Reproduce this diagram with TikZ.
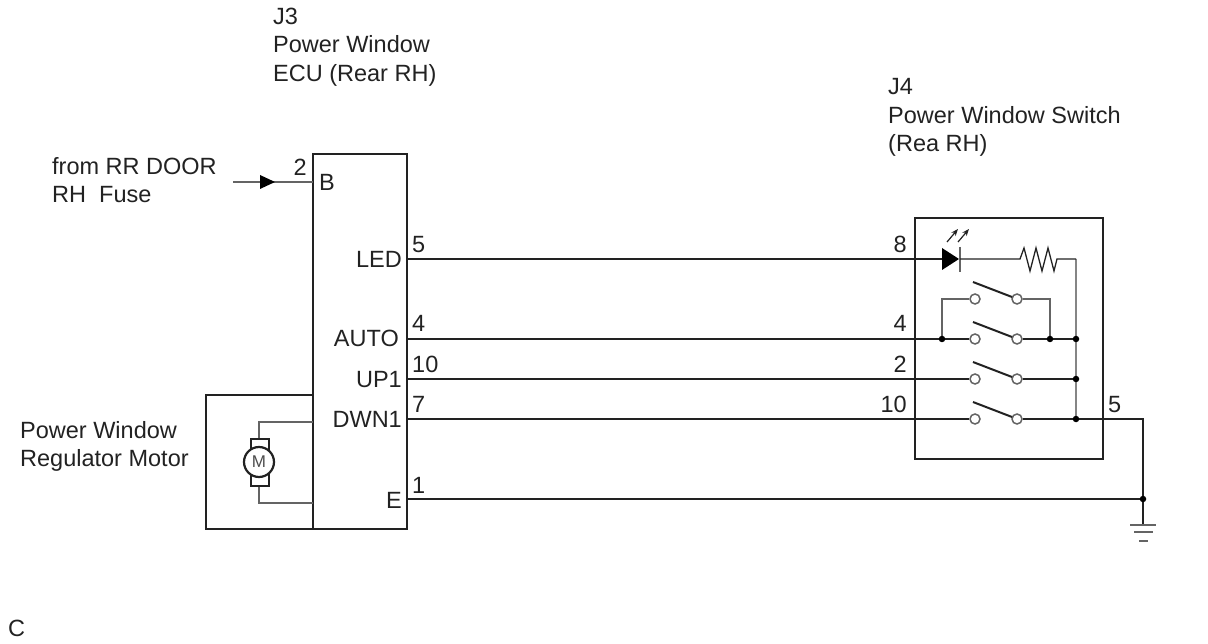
\documentclass[tikz,border=0pt]{standalone}
\usepackage{fontspec}
\setmainfont{Liberation Sans}
\usetikzlibrary{arrows.meta,backgrounds}
\definecolor{ink}{HTML}{222222}
\tikzset{
 lbl/.style={inner sep=0pt,text=ink,font=\fontsize{23.5}{28.7}\selectfont,align=left},
 wire/.style={draw=ink,line width=1.3pt},
 thin wire/.style={draw=ink!70,line width=1.6pt},
 boxx/.style={draw=ink,line width=2.3pt,fill=none},
 dot/.style={circle,fill=black,inner sep=0pt,minimum size=6.5pt},
 term/.style={circle,draw=ink!70,fill=white,line width=1.5pt,inner sep=0pt,minimum size=10pt},
}
\begin{document}
\begin{tikzpicture}[x=1pt,y=-1pt]
\useasboundingbox (0,0) rectangle (1208,644);
\begin{scope}[on background layer]
\fill[white] (0,0) rectangle (1208,644);
\end{scope}
% boxes
\draw[boxx] (206,395) rectangle (313,529);
\draw[boxx] (313,154) rectangle (407,529);
\draw[boxx] (915,218) rectangle (1103,459);
% pin coordinates
\coordinate (ecuB) at (313,182);
\coordinate (src) at (233,182);
\coordinate (led) at (407,259);
\coordinate (auto) at (407,339);
\coordinate (up) at (407,379);
\coordinate (dwn) at (407,419);
\coordinate (e) at (407,499);
% switches
\foreach \n/\y in {a/299,b/339,c/379,d/419}{
 \node[term] (\n l) at (975,\y) {};
 \node[term] (\n r) at (1017,\y) {};
 \coordinate (\n s) at (973,\y-17);
 \coordinate (\n t) at (1012,\y-2);
 \draw[draw=ink,line width=2pt] (\n s) -- (\n t);
}
% junctions
\node[dot] (j1) at (942,339) {};
\node[dot] (j2) at (1050,339) {};
\node[dot] (j3) at (1076,339) {};
\node[dot] (j4) at (1076,379) {};
\node[dot] (j5) at (1076,419) {};
\node[dot] (j6) at (1143,499) {};
\coordinate (ctop) at (1076,259);
\coordinate (c5) at (1143,419);
\coordinate (g0) at (1143,525);
% main wires
\begin{scope}[on background layer]
\draw[wire] (auto) -- (j1) -- (bl);
\draw[wire] (br) -- (j2) -- (j3);
\draw[wire] (up) -- (cl);
\draw[wire] (cr) -- (j4);
\draw[wire] (dwn) -- (dl);
\draw[wire] (dr) -- (j5) -- (c5) -- (j6);
\draw[wire] (e) -- (j6);
\draw[wire,line width=1.6pt] (j6) -- (g0);
\draw[thin wire,line width=2pt] (j1) |- (al);
\draw[thin wire,line width=2pt] (ar) -| (j2);
\draw[line width=2.6pt,draw=ink!55] (ctop) -- (j5);
\end{scope}
% LED + resistor
\draw[wire] (led) -- (943,259);
\fill[black] (942,248) -- (959,259) -- (942,270) -- cycle;
\draw[thin wire] (960,247) -- (960,272);
\draw[wire] (960,259) -- (1020,259) -- (1024,248) -- (1030,271) -- (1036,248) -- (1042,271) -- (1048,248) -- (1054,271) -- (1057,259) -- (ctop);
\foreach \x in {947,958}{
 \draw[draw=ink,line width=1.2pt,-{Stealth[length=7pt,width=5.5pt]}] (\x,242) -- (\x+11,229);
}
% source arrow
\draw[thin wire,line width=2pt] (src) -- (ecuB);
\fill[black] (260,175) -- (275,182) -- (260,189) -- cycle;
% motor
\coordinate (m1) at (313,422);
\coordinate (m2) at (313,503);
\draw[thin wire,line width=2pt] (m1) -| (259,439);
\draw[thin wire,line width=2pt] (m2) -| (259,486);
\draw[draw=ink,line width=2pt,fill=white] (251,439) rectangle (269,486);
\node[circle,draw=ink,line width=2.2pt,minimum size=30pt,inner sep=0pt,fill=white,font=\fontsize{17}{17}\selectfont,text=ink!80] (motor) at (259,462) {M};
% labels
\node[lbl,anchor=north west] (t1) at (273,7.5) {J3\\Power Window\\ECU (Rear RH)};
\node[lbl,anchor=north west] (t2) at (888,78) {J4\\Power Window Switch\\(Rea RH)};
\node[lbl,anchor=north west] (t3) at (52,157) {from RR DOOR\\RH\ \ Fuse};
\node[lbl,anchor=north west] (t4) at (20,421) {Power Window\\Regulator Motor};
\node[lbl,anchor=base west] (tc) at (8,636) {C};
\node[lbl,anchor=base west] (pB) at (319,191) {B};
\node[lbl,anchor=base east] (pLED) at (402,268) {LED};
\node[lbl,anchor=base east] (pAUTO) at (399,347) {AUTO};
\node[lbl,anchor=base east] (pUP) at (402,388) {UP1};
\node[lbl,anchor=base east] (pDWN) at (402,428) {DWN1};
\node[lbl,anchor=base east] (pE) at (402,508) {E};
\foreach \n/\t/\x/\y in {a/2/307/176,b/8/907/253,c/4/907/332,d/2/907/373,f/10/907/413}
 \node[lbl,anchor=base east] (n\n) at (\x,\y) {\t};
\foreach \n/\t/\x/\y in {g/5/412/253,h/4/412/332,i/10/412/373,k/7/412/413,m/1/412/493,o/5/1108/413}
 \node[lbl,anchor=base west] (n\n) at (\x,\y) {\t};
% ground
\coordinate (g1) at (1130,525);\coordinate (g2) at (1156,525);
\draw[thin wire] (g1) -- (g2);
\draw[thin wire] (1134,532) -- (1153,532);
\draw[thin wire] (1139,541) -- (1148,541);
\end{tikzpicture}
\end{document}
